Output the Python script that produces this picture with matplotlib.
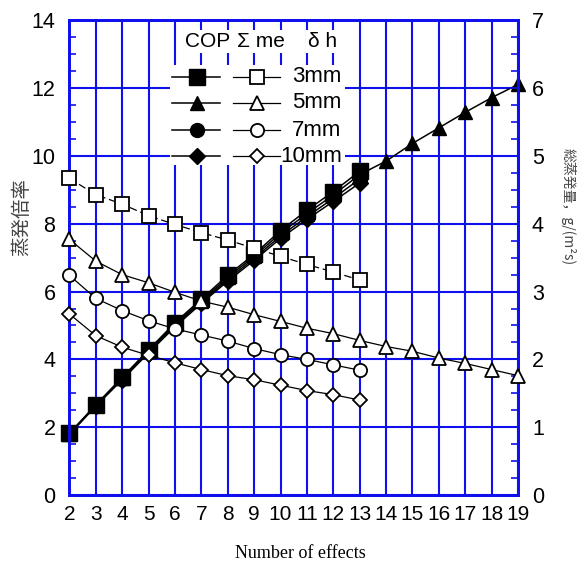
import matplotlib
matplotlib.use('Agg')
import matplotlib.pyplot as plt
from matplotlib.ticker import MultipleLocator
from matplotlib.lines import Line2D
from matplotlib.patches import Rectangle

SANS = ['Liberation Sans', 'DejaVu Sans']
JP = ['Noto Sans CJK JP', 'DejaVu Sans']
plt.rcParams['font.family'] = SANS

# data
effects = [2, 3, 4, 5, 6, 7, 8, 9, 10, 11, 12, 13]
effects_5mm = list(range(2, 20))

# COP (left axis)
cop_3mm = [1.82, 2.66, 3.47, 4.28, 5.08, 5.78, 6.48, 7.10, 7.80, 8.40, 8.95, 9.55]
cop_5mm = [1.80, 2.64, 3.44, 4.25, 5.04, 5.73, 6.42, 7.04, 7.72, 8.30, 8.85, 9.45,
           9.85, 10.37, 10.83, 11.29, 11.72, 12.11]
cop_7mm = [1.80, 2.63, 3.42, 4.22, 5.00, 5.69, 6.36, 6.98, 7.64, 8.21, 8.75, 9.32]
cop_10mm = [1.79, 2.62, 3.40, 4.19, 4.96, 5.65, 6.31, 6.92, 7.57, 8.13, 8.66, 9.20]

# total evaporation (right axis)
me_3mm = [4.67, 4.43, 4.29, 4.12, 3.99, 3.87, 3.76, 3.64, 3.52, 3.40, 3.29, 3.17]
me_5mm = [3.77, 3.45, 3.25, 3.13, 2.99, 2.86, 2.77, 2.66, 2.56, 2.46, 2.38, 2.28,
          2.19, 2.12, 2.02, 1.94, 1.85, 1.76]
me_7mm = [3.24, 2.90, 2.72, 2.57, 2.45, 2.36, 2.27, 2.16, 2.07, 2.00, 1.92, 1.84]
me_10mm = [2.67, 2.35, 2.18, 2.06, 1.95, 1.85, 1.76, 1.70, 1.62, 1.54, 1.48, 1.40]

labels = ['3mm', '5mm', '7mm', '10mm']
markers = ['s', '^', 'o', 'D']
msizes = [11, 10, 10, 8]

fig = plt.figure(figsize=(5.88, 5.67), dpi=100)
ax = fig.add_axes([0.118, 0.127, 0.763, 0.837])
ax2 = ax.twinx()

BLUE = '#1010ee'

ax.set_xlim(2, 19)
ax.set_ylim(0, 14)
ax2.set_ylim(0, 7)
ax.xaxis.set_major_locator(MultipleLocator(1))
ax.yaxis.set_major_locator(MultipleLocator(2))
ax.yaxis.set_minor_locator(MultipleLocator(0.5))
ax2.yaxis.set_major_locator(MultipleLocator(1))
ax2.yaxis.set_minor_locator(MultipleLocator(0.25))

ax.set_axisbelow(True)
ax.grid(True, which='major', color=BLUE, lw=1.5)

for a in (ax, ax2):
    for s in a.spines.values():
        s.set_color(BLUE)
        s.set_linewidth(2)

ax.tick_params(axis='both', which='both', direction='in', color=BLUE,
               labelsize=15.5, pad=10)
ax.tick_params(axis='y', which='major', length=6, width=1.2)
ax.tick_params(axis='y', which='minor', length=5, width=1.2)
ax.tick_params(axis='x', which='major', length=0, pad=7, labelsize=15)
ax2.tick_params(axis='y', which='both', direction='in', color=BLUE,
                labelsize=15.5, pad=10, width=1.2)
ax2.tick_params(axis='y', which='major', length=6)
ax2.tick_params(axis='y', which='minor', length=5)

# COP series (filled)
cops = [(effects, cop_3mm), (effects_5mm, cop_5mm), (effects, cop_7mm), (effects, cop_10mm)]
for (xs, ys), m, ms in zip(cops, markers, msizes):
    ax.plot(xs, ys, color='black', lw=1.1, marker=m, ms=ms, mfc='black',
            mec='black', zorder=3, clip_on=False)

# total evaporation series (open)
mes = [(effects, me_3mm), (effects_5mm, me_5mm), (effects, me_7mm), (effects, me_10mm)]
for i, ((xs, ys), m, ms) in enumerate(zip(mes, markers, msizes)):
    ls = (0, (6, 3)) if i == 0 else '-'
    ax2.plot(xs, ys, color='black', lw=0.9, ls=ls, marker=m, ms=ms - 0.5,
             mfc='white', mec='black', mew=1.3, zorder=3, clip_on=False)

# legend table
tr = ax.transAxes
ax.add_patch(Rectangle((0.224, 0.695), 0.39, 0.211, transform=tr,
                       facecolor='white', edgecolor='none', zorder=1))
hdr_box = dict(facecolor='white', edgecolor='none', pad=1.5)
ax.text(0.309, 0.955, 'COP', transform=tr, ha='center', va='center',
        fontsize=15, bbox=hdr_box, zorder=4)
ax.text(0.428, 0.955, 'Σ me', transform=tr, ha='center', va='center',
        fontsize=15, bbox=hdr_box, zorder=4)
ax.text(0.565, 0.955, 'δ h', transform=tr, ha='center', va='center',
        fontsize=15, bbox=hdr_box, zorder=4)
rows_y = [0.8816, 0.826, 0.769, 0.714]
for y, lab, m, ms in zip(rows_y, labels, markers, msizes):
    ax.add_line(Line2D([0.2285, 0.3356], [y, y], transform=tr, color='black', lw=1.1, zorder=4))
    ax.add_line(Line2D([0.284], [y], transform=tr, marker=m, ms=ms, color='black',
                       mfc='black', zorder=5))
    ax.add_line(Line2D([0.3646, 0.469], [y, y], transform=tr, color='black', lw=0.9, zorder=4))
    ax.add_line(Line2D([0.418], [y], transform=tr, marker=m, ms=ms - 0.5, color='black',
                       mfc='white', mew=1.3, zorder=5))
    ax.text(0.607, y, lab, transform=tr, ha='right', va='center', fontsize=16, zorder=5)

# axis labels
fig.text(22 / 588, 1 - 217 / 567, '蒸発倍率', rotation=90, ha='center', va='center',
         fontsize=14, color='#444444', family=JP)
fig.text(568 / 588, 1 - 207 / 567, '総蒸発量，g/(m²s)', rotation=270, ha='center',
         va='center', fontsize=10, color='#444444', family=JP)
fig.text(300 / 588, 1 - 554 / 567, 'Number of effects', ha='center', va='center',
         fontsize=13, family=['Liberation Serif', 'DejaVu Serif'])

fig.savefig('out.png', dpi=100)
